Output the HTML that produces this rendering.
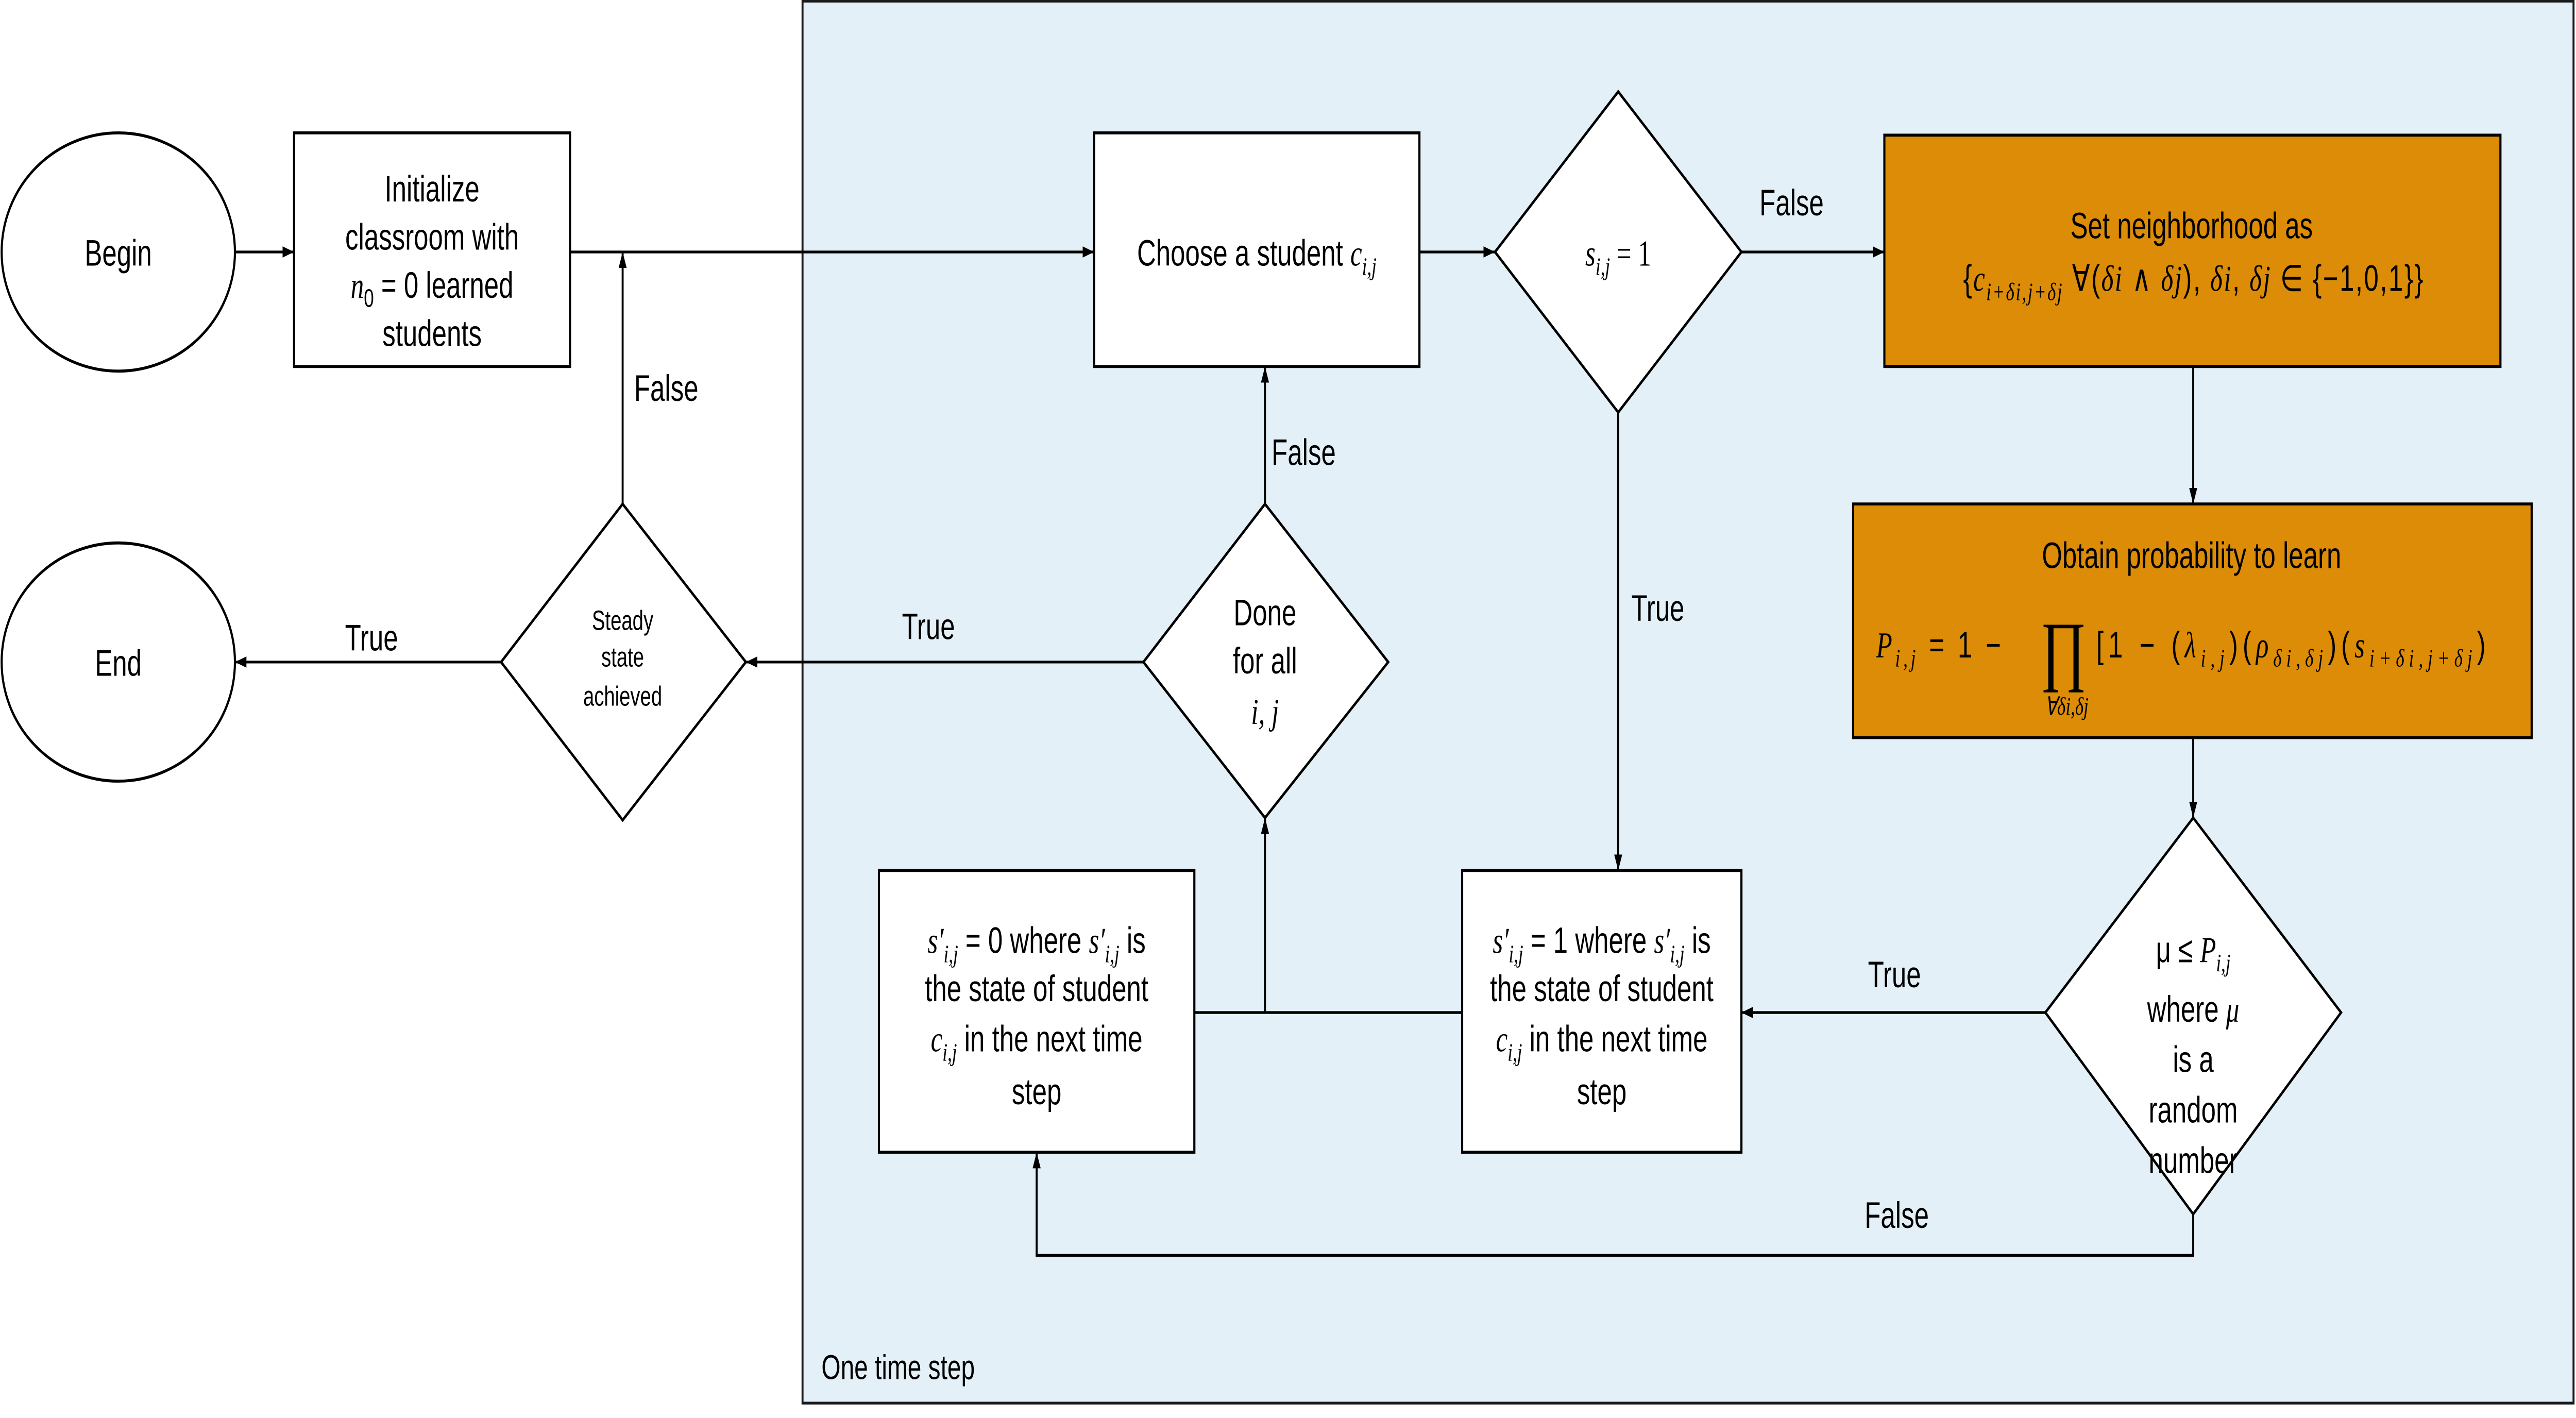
<!DOCTYPE html>
<html><head><meta charset="utf-8"><style>
html,body{margin:0;padding:0;background:#fff;width:100%;height:100%;overflow:hidden}
svg{display:block;position:absolute;left:0;top:0;width:100vw;height:100vh}
text{font-family:"Liberation Sans",sans-serif;fill:#000}
.m{font-family:"Liberation Serif",serif;font-style:italic}
.r{font-family:"Liberation Serif",serif}
</style></head><body>
<svg viewBox="0 0 1568 619" preserveAspectRatio="none" xmlns="http://www.w3.org/2000/svg">
<defs><marker id="a" viewBox="0 0 10 10" refX="10" refY="5" markerWidth="7" markerHeight="7" markerUnits="userSpaceOnUse" orient="auto"><path d="M0,1.5L10,5L0,8.5z" fill="#000"/></marker></defs>
<rect x="0" y="0" width="1568" height="619" fill="#fff"/>
<rect x="488.5" y="0.5" width="1078" height="612" fill="#e4f0f7" stroke="#1a1a1a" stroke-width="1.2"/>
<text x="500" y="602" font-size="15">One time step</text>

<g fill="#fff" stroke="#000" stroke-width="1.3">
<ellipse cx="72" cy="110" rx="71" ry="52"/>
<ellipse cx="72" cy="289" rx="71" ry="52"/>
<rect x="179" y="58" width="168" height="102"/>
<polygon points="379,220 454,289 379,358 305,289"/>
<rect x="666" y="58" width="198" height="102"/>
<polygon points="985,40 1060,110 985,180 910,110"/>
<polygon points="770,220 845,289 770,357 696,289"/>
<polygon points="1335,357 1425,442 1335,530 1245,442"/>
<rect x="890" y="380" width="170" height="123"/>
<rect x="535" y="380" width="192" height="123"/>
<rect x="1147" y="59" width="375" height="101" fill="#dc8c06"/>
<rect x="1128" y="220" width="413" height="102" fill="#dc8c06"/>
</g>

<g stroke="#000" stroke-width="1.2" fill="none">
<line x1="143" y1="110" x2="179" y2="110" marker-end="url(#a)"/>
<line x1="347" y1="110" x2="666" y2="110" marker-end="url(#a)"/>
<line x1="379" y1="220" x2="379" y2="110" marker-end="url(#a)"/>
<line x1="305" y1="289" x2="143" y2="289" marker-end="url(#a)"/>
<line x1="864" y1="110" x2="910" y2="110" marker-end="url(#a)"/>
<line x1="1060" y1="110" x2="1147" y2="110" marker-end="url(#a)"/>
<line x1="1335" y1="160" x2="1335" y2="220" marker-end="url(#a)"/>
<line x1="1335" y1="322" x2="1335" y2="357" marker-end="url(#a)"/>
<line x1="1245" y1="442" x2="1060" y2="442" marker-end="url(#a)"/>
<polyline points="1335,530 1335,548 631,548 631,503" marker-end="url(#a)"/>
<line x1="985" y1="180" x2="985" y2="380" marker-end="url(#a)"/>
<line x1="727" y1="442" x2="890" y2="442"/>
<line x1="770" y1="442" x2="770" y2="357" marker-end="url(#a)"/>
<line x1="696" y1="289" x2="454" y2="289" marker-end="url(#a)"/>
<line x1="770" y1="220" x2="770" y2="160" marker-end="url(#a)"/>
</g>

<g font-size="16">
<text x="386" y="175">False</text>
<text x="210" y="284">True</text>
<text x="549" y="279">True</text>
<text x="774" y="203">False</text>
<text x="1071" y="94">False</text>
<text x="993" y="271">True</text>
<text x="1137" y="431">True</text>
<text x="1135" y="536">False</text>
</g>

<g font-size="16" text-anchor="middle">
<text x="72" y="116">Begin</text>
<text x="72" y="295">End</text>
<text x="263" y="88">Initialize</text>
<text x="263" y="109">classroom with</text>
<text x="263" y="130"><tspan class="m">n</tspan><tspan font-size="11" dy="4">0</tspan><tspan dy="-4"> = 0 learned</tspan></text>
<text x="263" y="151">students</text>
<text x="765" y="116">Choose a student <tspan class="m">c</tspan><tspan class="m" font-size="11" dy="4">i,j</tspan></text>
<text x="985" y="116"><tspan class="m">s</tspan><tspan class="m" font-size="11" dy="4">i,j</tspan><tspan dy="-4" class="r"> = 1</tspan></text>
<text x="770" y="273">Done</text>
<text x="770" y="294">for all</text>
<text x="770" y="316" class="m">i, j</text>
<text x="379" y="275" font-size="12">Steady</text>
<text x="379" y="291" font-size="12">state</text>
<text x="379" y="308" font-size="12">achieved</text>
<text x="1335" y="420">μ ≤ <tspan class="m">P</tspan><tspan class="m" font-size="11" dy="4">i,j</tspan></text>
<text x="1335" y="446">where <tspan class="m">μ</tspan></text>
<text x="1335" y="468">is a</text>
<text x="1335" y="490">random</text>
<text x="1335" y="512">number</text>
<text x="631" y="416"><tspan class="m">s′</tspan><tspan class="m" font-size="11" dy="4">i,j</tspan><tspan dy="-4"> = 0 where </tspan><tspan class="m">s′</tspan><tspan class="m" font-size="11" dy="4">i,j</tspan><tspan dy="-4"> is</tspan></text>
<text x="631" y="437">the state of student</text>
<text x="631" y="459"><tspan class="m">c</tspan><tspan class="m" font-size="11" dy="4">i,j</tspan><tspan dy="-4"> in the next time</tspan></text>
<text x="631" y="482">step</text>
<text x="975" y="416"><tspan class="m">s′</tspan><tspan class="m" font-size="11" dy="4">i,j</tspan><tspan dy="-4"> = 1 where </tspan><tspan class="m">s′</tspan><tspan class="m" font-size="11" dy="4">i,j</tspan><tspan dy="-4"> is</tspan></text>
<text x="975" y="437">the state of student</text>
<text x="975" y="459"><tspan class="m">c</tspan><tspan class="m" font-size="11" dy="4">i,j</tspan><tspan dy="-4"> in the next time</tspan></text>
<text x="975" y="482">step</text>
<text x="1334" y="104">Set neighborhood as</text>
<text x="1334" y="248">Obtain probability to learn</text>
</g>
<g font-size="16">
<text x="1195" y="127" textLength="280" lengthAdjust="spacing">{<tspan class="m">c</tspan><tspan class="m" font-size="11" dy="4">i+δi,j+δj</tspan><tspan dy="-4"> ∀(</tspan><tspan class="m">δi</tspan> ∧ <tspan class="m">δj</tspan>), <tspan class="m">δi</tspan>, <tspan class="m">δj</tspan> ∈ {−1,0,1}}</text>
<text x="1142" y="287" textLength="76" lengthAdjust="spacing"><tspan class="m">P</tspan><tspan class="m" font-size="11" dy="4">i,j</tspan><tspan dy="-4"> = 1  − </tspan></text>
<text x="1256" y="295" font-size="34" text-anchor="middle" class="r">∏</text>
<text x="1258" y="312" font-size="11" text-anchor="middle" class="m">∀δi,δj</text>
<text x="1276" y="287" textLength="237" lengthAdjust="spacing">[1 − (<tspan class="m">λ</tspan><tspan class="m" font-size="11" dy="4">i,j</tspan><tspan dy="-4">)(</tspan><tspan class="m">ρ</tspan><tspan class="m" font-size="11" dy="4">δi,δj</tspan><tspan dy="-4">)(</tspan><tspan class="m">s</tspan><tspan class="m" font-size="11" dy="4">i+δi,j+δj</tspan><tspan dy="-4">)</tspan></text>
</g>
</svg>
</body></html>
